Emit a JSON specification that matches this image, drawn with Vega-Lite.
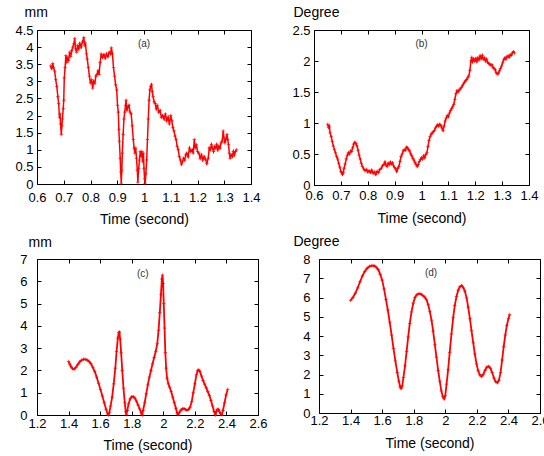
{
  "$schema": "https://vega.github.io/schema/vega-lite/v6.json",
  "padding": {"left": 14, "top": 4, "right": 0, "bottom": 0},
  "background": "white",
  "config": {
    "view": {"stroke": "black", "strokeWidth": 1},
    "axis": {"grid": false, "domain": false, "tickSize": -4, "tickColor": "black", "tickWidth": 1,
      "labelColor": "black", "labelFont": "Liberation Sans", "labelFontSize": 13,
      "titleFont": "Liberation Sans", "titleFontSize": 14, "titleFontWeight": "normal", "titleColor": "black",
      "labelFlush": false, "labelOverlap": false},
    "concat": {"spacing": 10}
  },
  "datasets": {
    "a": [
      {"t":0.651,"v":3.45},{"t":0.655,"v":3.38},{"t":0.659,"v":3.52},{"t":0.662,"v":3.40},{"t":0.666,"v":3.30},{"t":0.670,"v":3.05},{"t":0.674,"v":2.85},{"t":0.678,"v":2.55},{"t":0.681,"v":2.35},{"t":0.684,"v":1.95},{"t":0.686,"v":2.05},{"t":0.688,"v":1.75},{"t":0.691,"v":1.45},{"t":0.693,"v":1.70},{"t":0.695,"v":1.90},{"t":0.698,"v":2.20},{"t":0.700,"v":2.45},{"t":0.702,"v":3.10},{"t":0.705,"v":3.40},{"t":0.708,"v":3.75},{"t":0.711,"v":3.55},{"t":0.714,"v":3.70},{"t":0.718,"v":3.60},{"t":0.722,"v":3.85},{"t":0.726,"v":3.72},{"t":0.730,"v":3.90},{"t":0.734,"v":4.00},{"t":0.738,"v":4.10},{"t":0.741,"v":4.25},{"t":0.744,"v":3.95},{"t":0.748,"v":3.85},{"t":0.752,"v":4.05},{"t":0.756,"v":3.95},{"t":0.760,"v":4.10},{"t":0.765,"v":4.00},{"t":0.770,"v":4.15},{"t":0.775,"v":4.28},{"t":0.778,"v":4.05},{"t":0.781,"v":4.12},{"t":0.785,"v":3.80},{"t":0.788,"v":3.65},{"t":0.792,"v":3.40},{"t":0.796,"v":3.15},{"t":0.800,"v":2.95},{"t":0.804,"v":3.05},{"t":0.808,"v":2.80},{"t":0.812,"v":3.00},{"t":0.816,"v":2.95},{"t":0.820,"v":3.15},{"t":0.824,"v":3.20},{"t":0.828,"v":3.30},{"t":0.832,"v":3.20},{"t":0.836,"v":3.55},{"t":0.840,"v":3.80},{"t":0.845,"v":3.70},{"t":0.850,"v":3.78},{"t":0.855,"v":3.68},{"t":0.860,"v":3.80},{"t":0.865,"v":3.72},{"t":0.870,"v":3.85},{"t":0.875,"v":3.80},{"t":0.878,"v":3.98},{"t":0.882,"v":3.80},{"t":0.886,"v":3.40},{"t":0.890,"v":3.15},{"t":0.894,"v":2.90},{"t":0.898,"v":2.75},{"t":0.901,"v":2.30},{"t":0.904,"v":2.10},{"t":0.906,"v":1.60},{"t":0.908,"v":1.25},{"t":0.911,"v":0.75},{"t":0.913,"v":0.35},{"t":0.915,"v":0.02},{"t":0.917,"v":0.40},{"t":0.919,"v":0.90},{"t":0.922,"v":1.45},{"t":0.925,"v":1.90},{"t":0.928,"v":2.10},{"t":0.931,"v":2.30},{"t":0.933,"v":2.45},{"t":0.936,"v":2.15},{"t":0.940,"v":2.25},{"t":0.944,"v":2.30},{"t":0.948,"v":2.10},{"t":0.952,"v":2.05},{"t":0.956,"v":1.70},{"t":0.960,"v":1.30},{"t":0.963,"v":1.05},{"t":0.966,"v":0.90},{"t":0.969,"v":1.05},{"t":0.972,"v":0.75},{"t":0.975,"v":0.40},{"t":0.977,"v":0.05},{"t":0.980,"v":0.45},{"t":0.983,"v":0.70},{"t":0.986,"v":0.95},{"t":0.989,"v":0.80},{"t":0.992,"v":0.95},{"t":0.995,"v":0.65},{"t":0.998,"v":0.90},{"t":1.000,"v":0.45},{"t":1.002,"v":0.15},{"t":1.004,"v":0.02},{"t":1.007,"v":0.30},{"t":1.010,"v":0.70},{"t":1.013,"v":1.30},{"t":1.016,"v":1.90},{"t":1.019,"v":2.45},{"t":1.022,"v":2.75},{"t":1.025,"v":2.85},{"t":1.028,"v":2.90},{"t":1.031,"v":2.70},{"t":1.034,"v":2.55},{"t":1.038,"v":2.40},{"t":1.042,"v":2.35},{"t":1.046,"v":2.20},{"t":1.050,"v":2.30},{"t":1.055,"v":2.10},{"t":1.060,"v":2.15},{"t":1.065,"v":1.95},{"t":1.070,"v":2.00},{"t":1.075,"v":1.90},{"t":1.080,"v":2.05},{"t":1.085,"v":1.85},{"t":1.090,"v":1.95},{"t":1.095,"v":1.75},{"t":1.100,"v":2.00},{"t":1.104,"v":1.85},{"t":1.108,"v":1.65},{"t":1.112,"v":1.55},{"t":1.116,"v":1.40},{"t":1.120,"v":1.30},{"t":1.124,"v":1.10},{"t":1.128,"v":1.00},{"t":1.132,"v":0.80},{"t":1.136,"v":0.70},{"t":1.140,"v":0.58},{"t":1.144,"v":0.65},{"t":1.148,"v":0.75},{"t":1.152,"v":0.70},{"t":1.156,"v":0.85},{"t":1.160,"v":0.90},{"t":1.165,"v":0.80},{"t":1.170,"v":1.05},{"t":1.175,"v":0.95},{"t":1.180,"v":1.00},{"t":1.184,"v":0.90},{"t":1.188,"v":1.30},{"t":1.192,"v":1.05},{"t":1.196,"v":1.15},{"t":1.200,"v":0.95},{"t":1.205,"v":0.90},{"t":1.210,"v":0.75},{"t":1.215,"v":0.85},{"t":1.220,"v":0.70},{"t":1.225,"v":0.80},{"t":1.230,"v":0.72},{"t":1.235,"v":0.60},{"t":1.240,"v":0.75},{"t":1.244,"v":1.05},{"t":1.248,"v":1.00},{"t":1.252,"v":1.15},{"t":1.256,"v":1.05},{"t":1.260,"v":0.95},{"t":1.264,"v":1.10},{"t":1.268,"v":1.05},{"t":1.272,"v":1.15},{"t":1.276,"v":1.00},{"t":1.280,"v":1.10},{"t":1.284,"v":1.05},{"t":1.288,"v":1.20},{"t":1.292,"v":1.25},{"t":1.296,"v":1.55},{"t":1.299,"v":1.35},{"t":1.302,"v":1.20},{"t":1.306,"v":1.30},{"t":1.310,"v":1.45},{"t":1.313,"v":1.30},{"t":1.316,"v":1.15},{"t":1.319,"v":0.90},{"t":1.322,"v":0.75},{"t":1.326,"v":0.85},{"t":1.330,"v":0.80},{"t":1.334,"v":0.95},{"t":1.338,"v":0.85},{"t":1.342,"v":0.95},{"t":1.346,"v":1.00}
    ],
    "b": [
      {"t":0.651,"v":0.98},{"t":0.654,"v":0.93},{"t":0.657,"v":0.95},{"t":0.660,"v":0.84},{"t":0.664,"v":0.78},{"t":0.668,"v":0.70},{"t":0.672,"v":0.63},{"t":0.676,"v":0.57},{"t":0.680,"v":0.52},{"t":0.684,"v":0.46},{"t":0.688,"v":0.42},{"t":0.692,"v":0.35},{"t":0.696,"v":0.29},{"t":0.700,"v":0.22},{"t":0.703,"v":0.20},{"t":0.706,"v":0.17},{"t":0.709,"v":0.20},{"t":0.712,"v":0.27},{"t":0.716,"v":0.34},{"t":0.720,"v":0.42},{"t":0.724,"v":0.48},{"t":0.728,"v":0.52},{"t":0.732,"v":0.50},{"t":0.736,"v":0.55},{"t":0.740,"v":0.54},{"t":0.744,"v":0.60},{"t":0.748,"v":0.66},{"t":0.752,"v":0.69},{"t":0.756,"v":0.67},{"t":0.760,"v":0.63},{"t":0.764,"v":0.56},{"t":0.768,"v":0.48},{"t":0.772,"v":0.42},{"t":0.776,"v":0.35},{"t":0.780,"v":0.30},{"t":0.785,"v":0.26},{"t":0.790,"v":0.23},{"t":0.795,"v":0.25},{"t":0.800,"v":0.21},{"t":0.805,"v":0.23},{"t":0.810,"v":0.20},{"t":0.815,"v":0.24},{"t":0.820,"v":0.19},{"t":0.825,"v":0.21},{"t":0.830,"v":0.17},{"t":0.835,"v":0.22},{"t":0.840,"v":0.20},{"t":0.845,"v":0.25},{"t":0.850,"v":0.27},{"t":0.855,"v":0.31},{"t":0.860,"v":0.33},{"t":0.864,"v":0.37},{"t":0.868,"v":0.32},{"t":0.872,"v":0.30},{"t":0.876,"v":0.35},{"t":0.880,"v":0.33},{"t":0.884,"v":0.37},{"t":0.888,"v":0.34},{"t":0.892,"v":0.36},{"t":0.896,"v":0.31},{"t":0.900,"v":0.28},{"t":0.904,"v":0.26},{"t":0.908,"v":0.22},{"t":0.912,"v":0.27},{"t":0.916,"v":0.30},{"t":0.920,"v":0.38},{"t":0.924,"v":0.46},{"t":0.928,"v":0.50},{"t":0.932,"v":0.55},{"t":0.936,"v":0.57},{"t":0.940,"v":0.56},{"t":0.944,"v":0.61},{"t":0.948,"v":0.60},{"t":0.952,"v":0.57},{"t":0.956,"v":0.55},{"t":0.960,"v":0.50},{"t":0.964,"v":0.47},{"t":0.968,"v":0.43},{"t":0.972,"v":0.40},{"t":0.976,"v":0.36},{"t":0.980,"v":0.33},{"t":0.984,"v":0.30},{"t":0.988,"v":0.33},{"t":0.992,"v":0.38},{"t":0.996,"v":0.41},{"t":1.000,"v":0.44},{"t":1.004,"v":0.42},{"t":1.008,"v":0.47},{"t":1.012,"v":0.44},{"t":1.016,"v":0.49},{"t":1.020,"v":0.52},{"t":1.024,"v":0.62},{"t":1.028,"v":0.72},{"t":1.032,"v":0.78},{"t":1.036,"v":0.82},{"t":1.040,"v":0.84},{"t":1.044,"v":0.86},{"t":1.048,"v":0.88},{"t":1.052,"v":0.92},{"t":1.056,"v":0.95},{"t":1.060,"v":0.97},{"t":1.064,"v":0.95},{"t":1.068,"v":0.98},{"t":1.072,"v":0.96},{"t":1.076,"v":0.92},{"t":1.080,"v":0.88},{"t":1.084,"v":0.95},{"t":1.088,"v":1.03},{"t":1.092,"v":1.08},{"t":1.096,"v":1.12},{"t":1.100,"v":1.10},{"t":1.104,"v":1.16},{"t":1.108,"v":1.20},{"t":1.112,"v":1.23},{"t":1.116,"v":1.26},{"t":1.120,"v":1.30},{"t":1.124,"v":1.38},{"t":1.128,"v":1.47},{"t":1.132,"v":1.52},{"t":1.136,"v":1.50},{"t":1.140,"v":1.53},{"t":1.144,"v":1.55},{"t":1.148,"v":1.57},{"t":1.152,"v":1.60},{"t":1.156,"v":1.63},{"t":1.160,"v":1.66},{"t":1.164,"v":1.68},{"t":1.168,"v":1.70},{"t":1.172,"v":1.73},{"t":1.176,"v":1.76},{"t":1.180,"v":1.85},{"t":1.184,"v":2.00},{"t":1.187,"v":2.06},{"t":1.190,"v":1.99},{"t":1.194,"v":2.03},{"t":1.198,"v":2.00},{"t":1.202,"v":2.04},{"t":1.206,"v":1.99},{"t":1.210,"v":2.05},{"t":1.214,"v":2.02},{"t":1.218,"v":2.08},{"t":1.222,"v":2.04},{"t":1.226,"v":2.09},{"t":1.230,"v":2.03},{"t":1.234,"v":2.05},{"t":1.238,"v":2.00},{"t":1.242,"v":2.03},{"t":1.246,"v":1.98},{"t":1.250,"v":1.96},{"t":1.254,"v":1.95},{"t":1.258,"v":1.93},{"t":1.262,"v":1.94},{"t":1.266,"v":1.90},{"t":1.270,"v":1.88},{"t":1.274,"v":1.86},{"t":1.278,"v":1.81},{"t":1.282,"v":1.79},{"t":1.286,"v":1.80},{"t":1.290,"v":1.84},{"t":1.294,"v":1.88},{"t":1.298,"v":1.92},{"t":1.302,"v":1.97},{"t":1.306,"v":2.02},{"t":1.310,"v":2.05},{"t":1.314,"v":2.03},{"t":1.318,"v":2.07},{"t":1.322,"v":2.08},{"t":1.326,"v":2.06},{"t":1.330,"v":2.10},{"t":1.334,"v":2.09},{"t":1.338,"v":2.13},{"t":1.342,"v":2.15},{"t":1.346,"v":2.13}
    ],
    "c": [
      {"t":1.400,"v":2.40},{"t":1.408,"v":2.28},{"t":1.416,"v":2.16},{"t":1.425,"v":2.08},{"t":1.436,"v":2.06},{"t":1.447,"v":2.14},{"t":1.458,"v":2.26},{"t":1.470,"v":2.38},{"t":1.482,"v":2.46},{"t":1.494,"v":2.50},{"t":1.506,"v":2.50},{"t":1.518,"v":2.47},{"t":1.530,"v":2.40},{"t":1.542,"v":2.30},{"t":1.554,"v":2.14},{"t":1.566,"v":1.95},{"t":1.578,"v":1.70},{"t":1.590,"v":1.42},{"t":1.602,"v":1.14},{"t":1.614,"v":0.85},{"t":1.626,"v":0.55},{"t":1.638,"v":0.25},{"t":1.648,"v":0.05},{"t":1.652,"v":0.01},{"t":1.658,"v":0.10},{"t":1.666,"v":0.40},{"t":1.676,"v":0.80},{"t":1.686,"v":1.40},{"t":1.696,"v":2.10},{"t":1.704,"v":2.85},{"t":1.712,"v":3.45},{"t":1.718,"v":3.70},{"t":1.722,"v":3.72},{"t":1.727,"v":3.40},{"t":1.733,"v":2.80},{"t":1.740,"v":2.00},{"t":1.748,"v":1.20},{"t":1.756,"v":0.55},{"t":1.762,"v":0.15},{"t":1.766,"v":0.02},{"t":1.772,"v":0.20},{"t":1.780,"v":0.50},{"t":1.790,"v":0.72},{"t":1.800,"v":0.82},{"t":1.810,"v":0.82},{"t":1.820,"v":0.76},{"t":1.830,"v":0.62},{"t":1.840,"v":0.45},{"t":1.850,"v":0.28},{"t":1.860,"v":0.10},{"t":1.866,"v":0.02},{"t":1.872,"v":0.20},{"t":1.882,"v":0.55},{"t":1.892,"v":0.95},{"t":1.902,"v":1.35},{"t":1.912,"v":1.70},{"t":1.922,"v":2.00},{"t":1.932,"v":2.30},{"t":1.942,"v":2.58},{"t":1.952,"v":2.85},{"t":1.962,"v":3.20},{"t":1.970,"v":3.80},{"t":1.978,"v":4.60},{"t":1.985,"v":5.40},{"t":1.991,"v":6.10},{"t":1.995,"v":6.28},{"t":1.999,"v":5.90},{"t":2.003,"v":5.00},{"t":2.008,"v":3.90},{"t":2.013,"v":2.80},{"t":2.018,"v":2.10},{"t":2.024,"v":1.65},{"t":2.032,"v":1.40},{"t":2.040,"v":1.25},{"t":2.050,"v":1.05},{"t":2.060,"v":0.80},{"t":2.070,"v":0.55},{"t":2.080,"v":0.30},{"t":2.088,"v":0.08},{"t":2.094,"v":0.03},{"t":2.102,"v":0.12},{"t":2.112,"v":0.22},{"t":2.122,"v":0.28},{"t":2.132,"v":0.28},{"t":2.142,"v":0.24},{"t":2.150,"v":0.22},{"t":2.160,"v":0.25},{"t":2.170,"v":0.35},{"t":2.180,"v":0.60},{"t":2.190,"v":1.00},{"t":2.200,"v":1.40},{"t":2.210,"v":1.80},{"t":2.218,"v":2.00},{"t":2.225,"v":2.02},{"t":2.232,"v":1.95},{"t":2.242,"v":1.75},{"t":2.252,"v":1.55},{"t":2.262,"v":1.38},{"t":2.272,"v":1.22},{"t":2.282,"v":1.05},{"t":2.292,"v":0.88},{"t":2.302,"v":0.65},{"t":2.312,"v":0.40},{"t":2.322,"v":0.15},{"t":2.330,"v":0.02},{"t":2.336,"v":0.15},{"t":2.342,"v":0.25},{"t":2.350,"v":0.25},{"t":2.356,"v":0.15},{"t":2.364,"v":0.05},{"t":2.370,"v":0.02},{"t":2.378,"v":0.20},{"t":2.388,"v":0.55},{"t":2.398,"v":0.90},{"t":2.408,"v":1.15}
    ],
    "d": [
      {"t":1.400,"v":5.85},{"t":1.415,"v":6.00},{"t":1.430,"v":6.22},{"t":1.445,"v":6.50},{"t":1.460,"v":6.82},{"t":1.475,"v":7.12},{"t":1.490,"v":7.35},{"t":1.505,"v":7.52},{"t":1.520,"v":7.62},{"t":1.535,"v":7.66},{"t":1.549,"v":7.65},{"t":1.562,"v":7.58},{"t":1.575,"v":7.45},{"t":1.588,"v":7.20},{"t":1.600,"v":6.90},{"t":1.612,"v":6.45},{"t":1.624,"v":5.90},{"t":1.636,"v":5.35},{"t":1.648,"v":4.72},{"t":1.660,"v":4.05},{"t":1.672,"v":3.35},{"t":1.684,"v":2.70},{"t":1.696,"v":2.10},{"t":1.706,"v":1.65},{"t":1.714,"v":1.36},{"t":1.720,"v":1.28},{"t":1.727,"v":1.40},{"t":1.735,"v":1.85},{"t":1.745,"v":2.45},{"t":1.755,"v":3.20},{"t":1.765,"v":3.95},{"t":1.775,"v":4.65},{"t":1.786,"v":5.25},{"t":1.797,"v":5.70},{"t":1.808,"v":6.00},{"t":1.820,"v":6.15},{"t":1.833,"v":6.20},{"t":1.846,"v":6.18},{"t":1.858,"v":6.10},{"t":1.870,"v":6.02},{"t":1.881,"v":5.88},{"t":1.892,"v":5.62},{"t":1.902,"v":5.28},{"t":1.913,"v":4.82},{"t":1.923,"v":4.25},{"t":1.934,"v":3.55},{"t":1.944,"v":2.90},{"t":1.955,"v":2.20},{"t":1.965,"v":1.65},{"t":1.975,"v":1.15},{"t":1.984,"v":0.85},{"t":1.993,"v":0.74},{"t":2.000,"v":0.90},{"t":2.008,"v":1.50},{"t":2.018,"v":2.25},{"t":2.028,"v":3.15},{"t":2.039,"v":4.10},{"t":2.050,"v":4.95},{"t":2.060,"v":5.58},{"t":2.071,"v":6.05},{"t":2.082,"v":6.38},{"t":2.093,"v":6.56},{"t":2.104,"v":6.62},{"t":2.115,"v":6.50},{"t":2.124,"v":6.33},{"t":2.135,"v":5.98},{"t":2.145,"v":5.50},{"t":2.156,"v":4.90},{"t":2.166,"v":4.28},{"t":2.177,"v":3.65},{"t":2.187,"v":3.07},{"t":2.198,"v":2.55},{"t":2.208,"v":2.20},{"t":2.219,"v":1.98},{"t":2.229,"v":1.90},{"t":2.240,"v":2.00},{"t":2.252,"v":2.22},{"t":2.263,"v":2.38},{"t":2.275,"v":2.42},{"t":2.286,"v":2.32},{"t":2.297,"v":2.10},{"t":2.308,"v":1.82},{"t":2.319,"v":1.63},{"t":2.330,"v":1.57},{"t":2.340,"v":1.70},{"t":2.350,"v":2.10},{"t":2.360,"v":2.75},{"t":2.370,"v":3.45},{"t":2.380,"v":4.05},{"t":2.390,"v":4.55},{"t":2.400,"v":4.90},{"t":2.408,"v":5.11}
    ]
  },
  "vconcat": [
    {
      "hconcat": [
        {
          "width": 214, "height": 154,
          "data": {"name": "a"},
          "resolve": {"axis": {"x": "independent", "y": "independent"}},
          "layer": [
            {"mark": {"type": "line", "color": "#ff0000", "strokeWidth": 1.5},
             "encoding": {
               "x": {"field": "t", "type": "quantitative", "scale": {"domain": [0.6, 1.4], "nice": false, "zero": false},
                 "axis": {"values": [0.6,0.7,0.8,0.9,1,1.1,1.2,1.3,1.4], "format": "~g", "title": "Time (second)", "labelPadding": 11, "titleBaseline": "alphabetic", "titleY": 39}},
               "y": {"field": "v", "type": "quantitative", "scale": {"domain": [0, 4.5], "nice": false},
                 "axis": {"values": [0,0.5,1,1.5,2,2.5,3,3.5,4,4.5], "format": "~g", "title": "mm", "titleAngle": 0, "titleAlign": "left", "titleBaseline": "alphabetic", "titleX": -13, "titleY": -14, "labelPadding": 8}}
             }},
            {"mark": {"type": "point", "shape": "M-1,0L1,0M0,-1L0,1", "filled": false, "color": "#ff0000", "size": 12, "strokeWidth": 1},
             "encoding": {"x": {"field": "t", "type": "quantitative", "axis": null}, "y": {"field": "v", "type": "quantitative", "axis": null}}},
            {"data": {"values": [{"t": 1.0, "v": 4.1, "label": "(a)"}]},
             "mark": {"type": "text", "font": "Liberation Sans", "fontSize": 10, "color": "#333333"},
             "encoding": {
               "x": {"field": "t", "type": "quantitative", "axis": {"orient": "top", "labels": false, "title": null, "values": [0.6,0.7,0.8,0.9,1,1.1,1.2,1.3,1.4]}},
               "y": {"field": "v", "type": "quantitative", "axis": {"orient": "right", "labels": false, "title": null, "values": [0,0.5,1,1.5,2,2.5,3,3.5,4,4.5]}},
               "text": {"field": "label"}
             }}
          ]
        },
        {
          "width": 215, "height": 155,
          "data": {"name": "b"},
          "resolve": {"axis": {"x": "independent", "y": "independent"}},
          "layer": [
            {"mark": {"type": "line", "color": "#ff0000", "strokeWidth": 1.5},
             "encoding": {
               "x": {"field": "t", "type": "quantitative", "scale": {"domain": [0.6, 1.4], "nice": false, "zero": false},
                 "axis": {"values": [0.6,0.7,0.8,0.9,1,1.1,1.2,1.3,1.4], "format": "~g", "title": "Time (second)", "labelPadding": 8, "titleBaseline": "alphabetic", "titleY": 37}},
               "y": {"field": "v", "type": "quantitative", "scale": {"domain": [0, 2.5], "nice": false},
                 "axis": {"values": [0,0.5,1,1.5,2,2.5], "format": "~g", "title": "Degree", "titleAngle": 0, "titleAlign": "left", "titleBaseline": "alphabetic", "titleX": -21, "titleY": -14, "labelPadding": 8}}
             }},
            {"mark": {"type": "point", "shape": "M-1,0L1,0M0,-1L0,1", "filled": false, "color": "#ff0000", "size": 12, "strokeWidth": 1},
             "encoding": {"x": {"field": "t", "type": "quantitative", "axis": null}, "y": {"field": "v", "type": "quantitative", "axis": null}}},
            {"data": {"values": [{"t": 1.0, "v": 2.27, "label": "(b)"}]},
             "mark": {"type": "text", "font": "Liberation Sans", "fontSize": 10, "color": "#333333"},
             "encoding": {
               "x": {"field": "t", "type": "quantitative", "axis": {"orient": "top", "labels": false, "title": null, "values": [0.6,0.7,0.8,0.9,1,1.1,1.2,1.3,1.4]}},
               "y": {"field": "v", "type": "quantitative", "axis": {"orient": "right", "labels": false, "title": null, "values": [0,0.5,1,1.5,2,2.5]}},
               "text": {"field": "label"}
             }}
          ]
        }
      ],
      "spacing": 30
    },
    {
      "hconcat": [
        {
          "width": 221, "height": 156,
          "data": {"name": "c"},
          "resolve": {"axis": {"x": "independent", "y": "independent"}},
          "layer": [
            {"mark": {"type": "line", "color": "#ff0000", "strokeWidth": 1.8},
             "encoding": {
               "x": {"field": "t", "type": "quantitative", "scale": {"domain": [1.2, 2.6], "nice": false, "zero": false},
                 "axis": {"values": [1.2,1.4,1.6,1.8,2,2.2,2.4,2.6], "format": "~g", "title": "Time (second)", "labelPadding": 6, "titleBaseline": "alphabetic", "titleY": 34}},
               "y": {"field": "v", "type": "quantitative", "scale": {"domain": [0, 7], "nice": false},
                 "axis": {"values": [0,1,2,3,4,5,6,7], "format": "~g", "title": "mm", "titleAngle": 0, "titleAlign": "left", "titleBaseline": "alphabetic", "titleX": -9, "titleY": -13, "labelPadding": 14}}
             }},
            {"mark": {"type": "point", "shape": "M-1,0L1,0M0,-1L0,1", "filled": false, "color": "#ff0000", "size": 12, "strokeWidth": 1},
             "encoding": {"x": {"field": "t", "type": "quantitative", "axis": null}, "y": {"field": "v", "type": "quantitative", "axis": null}}},
            {"data": {"values": [{"t": 1.87, "v": 6.33, "label": "(c)"}]},
             "mark": {"type": "text", "font": "Liberation Sans", "fontSize": 10, "color": "#333333"},
             "encoding": {
               "x": {"field": "t", "type": "quantitative", "axis": {"orient": "top", "labels": false, "title": null, "values": [1.2,1.4,1.6,1.8,2,2.2,2.4,2.6]}},
               "y": {"field": "v", "type": "quantitative", "axis": {"orient": "right", "labels": false, "title": null, "values": [0,1,2,3,4,5,6,7]}},
               "text": {"field": "label"}
             }}
          ]
        },
        {
          "width": 221, "height": 154,
          "data": {"name": "d"},
          "resolve": {"axis": {"x": "independent", "y": "independent"}},
          "layer": [
            {"mark": {"type": "line", "color": "#ff0000", "strokeWidth": 1.8},
             "encoding": {
               "x": {"field": "t", "type": "quantitative", "scale": {"domain": [1.2, 2.6], "nice": false, "zero": false},
                 "axis": {"values": [1.2,1.4,1.6,1.8,2,2.2,2.4,2.6], "format": "~g", "title": "Time (second)", "labelPadding": 5, "titleBaseline": "alphabetic", "titleY": 34}},
               "y": {"field": "v", "type": "quantitative", "scale": {"domain": [0, 8], "nice": false},
                 "axis": {"values": [0,1,2,3,4,5,6,7,8], "format": "~g", "title": "Degree", "titleAngle": 0, "titleAlign": "left", "titleBaseline": "alphabetic", "titleX": -26, "titleY": -14, "labelPadding": 13}}
             }},
            {"mark": {"type": "point", "shape": "M-1,0L1,0M0,-1L0,1", "filled": false, "color": "#ff0000", "size": 12, "strokeWidth": 1},
             "encoding": {"x": {"field": "t", "type": "quantitative", "axis": null}, "y": {"field": "v", "type": "quantitative", "axis": null}}},
            {"data": {"values": [{"t": 1.91, "v": 7.27, "label": "(d)"}]},
             "mark": {"type": "text", "font": "Liberation Sans", "fontSize": 10, "color": "#333333"},
             "encoding": {
               "x": {"field": "t", "type": "quantitative", "axis": {"orient": "top", "labels": false, "title": null, "values": [1.2,1.4,1.6,1.8,2,2.2,2.4,2.6]}},
               "y": {"field": "v", "type": "quantitative", "axis": {"orient": "right", "labels": false, "title": null, "values": [0,1,2,3,4,5,6,7,8]}},
               "text": {"field": "label"}
             }}
          ]
        }
      ],
      "spacing": 24
    }
  ],
  "spacing": 6
}
